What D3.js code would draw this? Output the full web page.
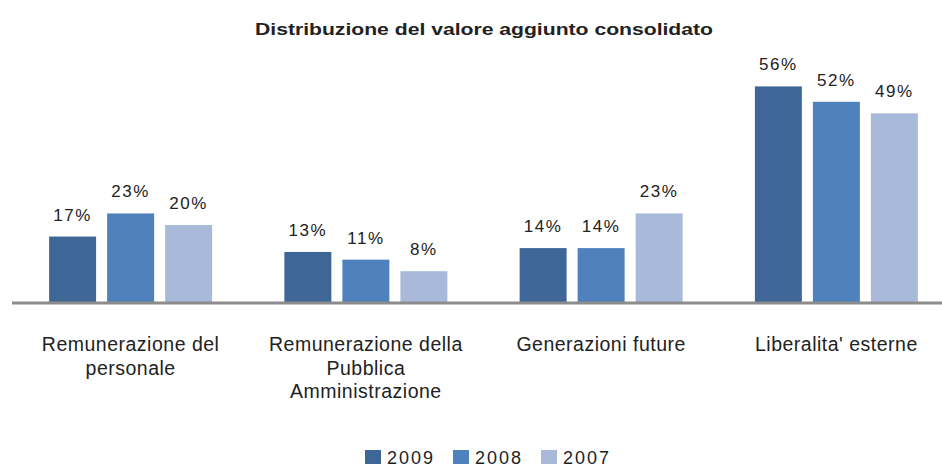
<!DOCTYPE html>
<html>
<head>
<meta charset="utf-8">
<title>Distribuzione del valore aggiunto consolidato</title>
<script src="https://d3js.org/d3.v7.min.js"></script>
<style>
  body { margin: 0; background: #fff; }
  text { font-family: "Liberation Sans", Arial, sans-serif; fill: #222; }
  .title { font-weight: bold; font-size: 16px; }
  .val { font-size: 17px; letter-spacing: 1.5px; }
  .cat { font-size: 19.5px; letter-spacing: 0.5px; }
  .leg { font-size: 18px; letter-spacing: 2px; }
</style>
</head>
<body>
<script>
var width = 942, height = 469;

// data
var categories = ["Remunerazione del personale", "Remunerazione della Pubblica Amministrazione", "Generazioni future", "Liberalita' esterne"];
var categoryLines = [["Remunerazione del", "personale"], ["Remunerazione della", "Pubblica", "Amministrazione"], ["Generazioni future"], ["Liberalita' esterne"]];
var years = ["2009", "2008", "2007"];
var v2009 = [17, 13, 14, 56];
var v2008 = [23, 11, 14, 52];
var v2007 = [20, 8, 23, 49];
var series = [v2009, v2008, v2007];

var colors = d3.scaleOrdinal().domain(years).range(["#3E6797", "#4F81BD", "#A8B9D9"]);

var svg = d3.select("body").append("svg")
    .attr("width", width).attr("height", height);

var baseY = 302;
var x0 = d3.scaleBand().domain(categories).range([13, 954]);
var x1 = d3.scaleBand().domain(years).range([0, 163]).paddingInner(0.19);
var y = d3.scaleLinear().domain([0, 60]).range([baseY, baseY - 231]);

svg.append("text").attr("class", "title")
    .attr("x", 484).attr("y", 35)
    .attr("text-anchor", "middle")
    .attr("textLength", 458).attr("lengthAdjust", "spacingAndGlyphs")
    .text("Distribuzione del valore aggiunto consolidato");

var groups = svg.selectAll(".grp").data(categories).enter().append("g")
    .attr("class", "grp")
    .attr("transform", function (d) {
        return "translate(" + (x0(d) + x0.bandwidth() / 2 - 81.5) + ",0)";
    });

groups.selectAll("rect").data(function (d, i) {
    return years.map(function (yr, j) { return { year: yr, value: series[j][i] }; });
}).enter().append("rect")
    .attr("x", function (d) { return x1(d.year); })
    .attr("width", x1.bandwidth())
    .attr("y", function (d) { return y(d.value); })
    .attr("height", function (d) { return baseY - y(d.value); })
    .attr("fill", function (d) { return colors(d.year); });

groups.selectAll(".val").data(function (d, i) {
    return years.map(function (yr, j) { return { year: yr, value: series[j][i] }; });
}).enter().append("text").attr("class", "val")
    .attr("x", function (d) { return x1(d.year) + x1.bandwidth() / 2; })
    .attr("y", function (d) { return y(d.value) - 16; })
    .attr("text-anchor", "middle")
    .text(function (d) { return d.value + "%"; });

// axis line
svg.append("line")
    .attr("x1", 12).attr("x2", 942)
    .attr("y1", baseY + 1).attr("y2", baseY + 1)
    .attr("stroke", "#8c8c8c").attr("stroke-width", 3);

// category labels
groups.append("text").attr("class", "cat")
    .attr("text-anchor", "middle")
    .each(function (d, i) {
        var t = d3.select(this);
        categoryLines[i].forEach(function (line, k) {
            t.append("tspan").attr("x", 81.5).attr("y", 351 + k * 23.5).text(line);
        });
    });

// legend
var legX = [365, 453, 541];
var leg = svg.selectAll(".legend").data(years).enter().append("g")
    .attr("class", "legend")
    .attr("transform", function (d, i) { return "translate(" + legX[i] + ",450)"; });
leg.append("rect").attr("width", 16).attr("height", 14)
    .attr("fill", function (d) { return colors(d); });
leg.append("text").attr("class", "leg")
    .attr("x", 22).attr("y", 14)
    .text(function (d) { return d; });
</script>
</body>
</html>
